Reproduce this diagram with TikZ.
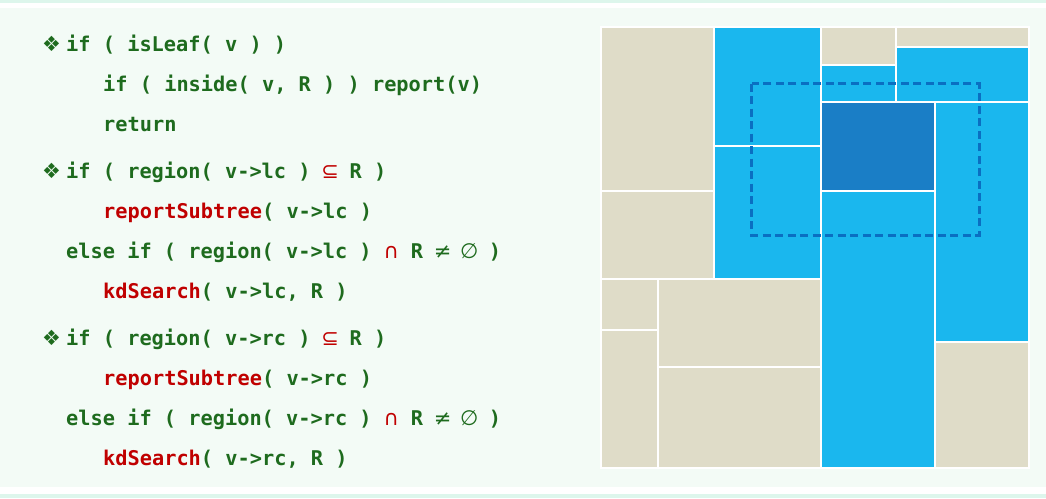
\documentclass[tikz,border=0pt]{standalone}
\usepackage{fontspec}
\setmonofont{DejaVu Sans Mono}
\newfontfamily\symfont{DejaVu Sans}
\definecolor{bgc}{HTML}{F3FBF6}
\definecolor{stripc}{HTML}{DDF6EC}
\definecolor{beigec}{HTML}{DFDCC8}
\definecolor{bluec}{HTML}{1AB7EE}
\definecolor{dbluec}{HTML}{1A7EC6}
\definecolor{dashc}{HTML}{0A6FC2}
\definecolor{codegreen}{HTML}{1E6B1E}
\definecolor{codered}{HTML}{C00000}
\tikzset{
  code/.style={anchor=base west, inner sep=0pt, text=codegreen,
    font=\ttfamily\bfseries\fontsize{20.3}{21}\selectfont},
  bullet/.style={anchor=base west, inner sep=0pt, text=codegreen,
    font=\symfont\fontsize{21}{22}\selectfont},
  cellb/.style={fill=beigec, draw=white, line width=2pt},
  cellu/.style={fill=bluec, draw=white, line width=2pt},
  celld/.style={fill=dbluec, draw=white, line width=2pt},
  query/.style={draw=dashc, line width=3pt, dash pattern=on 8pt off 4.5pt}
}
\newcommand{\msym}[1]{\makebox[0.72em][c]{\symfont\mdseries\fontsize{21}{22}\selectfont #1}}
\newcommand{\rd}[1]{\textcolor{codered}{#1}}
\begin{document}
\begin{tikzpicture}[x=1pt,y=-1pt]
\useasboundingbox (0,0) rectangle (1046,498);
\fill[bgc] (0,0) rectangle (1046,498);
\fill[stripc] (0,0) rectangle (1046,3);
\fill[white] (0,3) rectangle (1046,8);
\fill[white] (0,487) rectangle (1046,494);
\fill[stripc] (0,494) rectangle (1046,498);

% code
\node[bullet] (b1) at (42,51) {❖};
\node[bullet] (b2) at (42,178) {❖};
\node[bullet] (b3) at (42,345) {❖};
\node[code] (l1) at (66,51) {if ( isLeaf( v ) )};
\node[code] (l2) at (103,91) {if ( inside( v, R ) ) report(v)};
\node[code] (l3) at (103,131) {return};
\node[code] (l4) at (66,178) {if ( region( v->lc ) \rd{\msym{⊆}} R )};
\node[code] (l5) at (103,218) {\rd{reportSubtree}( v->lc )};
\node[code] (l6) at (66,258) {else if ( region( v->lc ) \rd{\msym{∩}} R \msym{≠} \msym{∅} )};
\node[code] (l7) at (103,298) {\rd{kdSearch}( v->lc, R )};
\node[code] (l8) at (66,345) {if ( region( v->rc ) \rd{\msym{⊆}} R )};
\node[code] (l9) at (103,385) {\rd{reportSubtree}( v->rc )};
\node[code] (l10) at (66,425) {else if ( region( v->rc ) \rd{\msym{∩}} R \msym{≠} \msym{∅} )};
\node[code] (l11) at (103,465) {\rd{kdSearch}( v->rc, R )};

% kd-tree partition
\draw[cellb] (601,27) rectangle (714,190.7);
\draw[cellb] (601,190.7) rectangle (714,278.7);
\draw[cellu] (714,27) rectangle (821,146.3);
\draw[cellu] (714,146.3) rectangle (821,278.7);
\draw[cellb] (601,278.7) rectangle (658,329.7);
\draw[cellb] (601,329.7) rectangle (658,468);
\draw[cellb] (658,278.7) rectangle (821,367);
\draw[cellb] (658,367) rectangle (821,468);
\draw[cellb] (821,27) rectangle (896.3,65.3);
\draw[cellu] (821,65.3) rectangle (896.3,102);
\draw[cellb] (896.3,27) rectangle (1029,46.7);
\draw[cellu] (896.3,46.7) rectangle (1029,102);
\draw[celld] (821,102) rectangle (934.7,190.7);
\draw[cellu] (821,190.7) rectangle (934.7,468);
\draw[cellu] (934.7,102) rectangle (1029,341.7);
\draw[cellb] (934.7,341.7) rectangle (1029,468);

% query range
\draw[query] (751.7,83.7) rectangle (979,235);
\end{tikzpicture}
\end{document}
